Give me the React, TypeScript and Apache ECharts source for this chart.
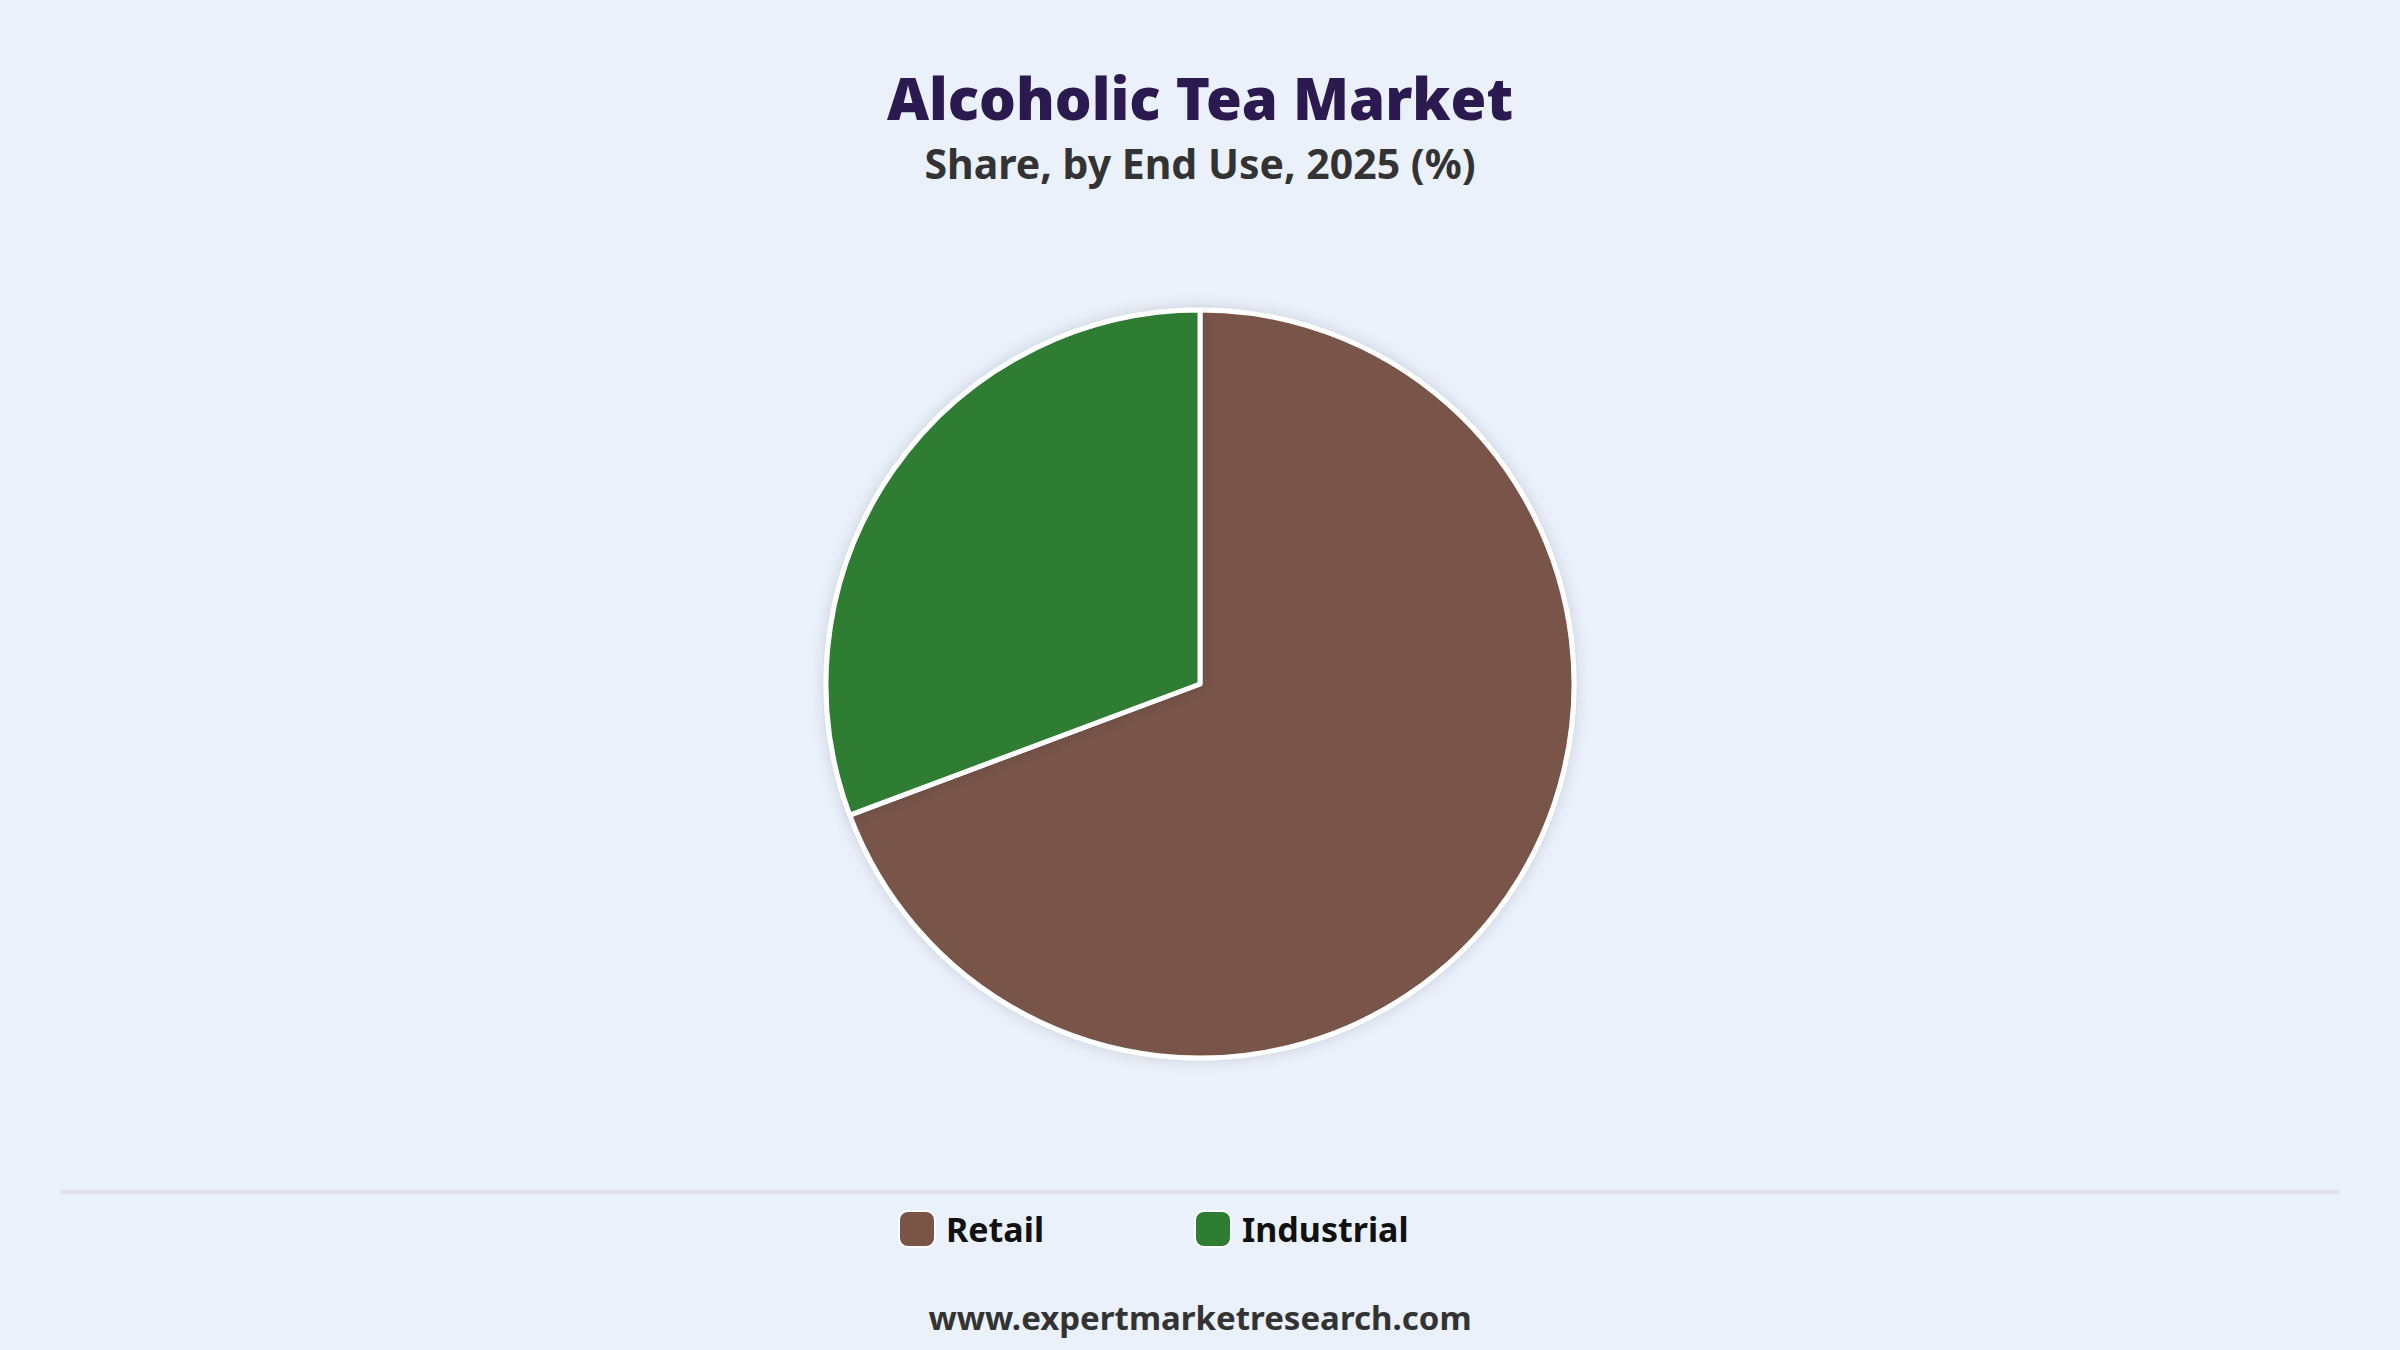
import React, { useEffect, useRef } from "react";
import * as echarts from "echarts";

const categories = ["Retail", "Industrial"];
const shareValues = [69.3, 30.7];
const sliceColors = ["#795548", "#2e7d32"];

const titleText = "Alcoholic Tea Market";
const subtitleText = "Share, by End Use, 2025 (%)";
const footerText = "www.expertmarketresearch.com";

export default function App() {
  const ref = useRef<HTMLDivElement>(null);
  useEffect(() => {
    document.body.style.margin = "0";
    const chart = echarts.init(ref.current!, null, { renderer: "svg" });
    const font = "'Noto Sans', 'Open Sans', sans-serif";
    chart.setOption({
      animation: false,
      backgroundColor: "#eaf1fb",
      title: [
        {
          text: titleText,
          left: "center",
          top: 63,
          textStyle: { fontFamily: font, fontSize: 58, fontWeight: 900, color: "#2b1a4f" },
        },
        {
          text: subtitleText,
          left: "center",
          top: 137,
          textStyle: { fontFamily: font, fontSize: 41, fontWeight: "bold", color: "#333333" },
        },
        {
          text: footerText,
          left: "center",
          top: 1296,
          textStyle: { fontFamily: font, fontSize: 33, fontWeight: "bold", color: "#333333" },
        },
      ],
      legend: {
        data: categories,
        left: 893,
        top: 1205,
        icon: "roundRect",
        itemWidth: 36,
        itemHeight: 36,
        itemGap: 150,
        textStyle: { fontFamily: font, fontSize: 34, fontWeight: "bold", color: "#111111", padding: [0, 0, 0, 6] },
      },
      graphic: [
        {
          type: "line",
          shape: { x1: 61, y1: 1192, x2: 2339, y2: 1192 },
          style: { stroke: "#d9dde3", lineWidth: 3 },
        },
      ],
      series: [
        {
          type: "pie",
          center: [1200, 684],
          radius: 374,
          startAngle: 90,
          clockwise: true,
          label: { show: false },
          labelLine: { show: false },
          itemStyle: {
            borderColor: "#ffffff",
            borderWidth: 5,
            shadowBlur: 14,
            shadowColor: "rgba(0,0,0,0.15)",
          },
          emphasis: { disabled: true },
          data: categories.map((c, i) => ({
            name: c,
            value: shareValues[i],
            itemStyle: { color: sliceColors[i] },
          })),
        },
      ],
    });
    return () => chart.dispose();
  }, []);
  return <div ref={ref} style={{ position: "absolute", left: 0, top: 0, width: 2400, height: 1350 }} />;
}
